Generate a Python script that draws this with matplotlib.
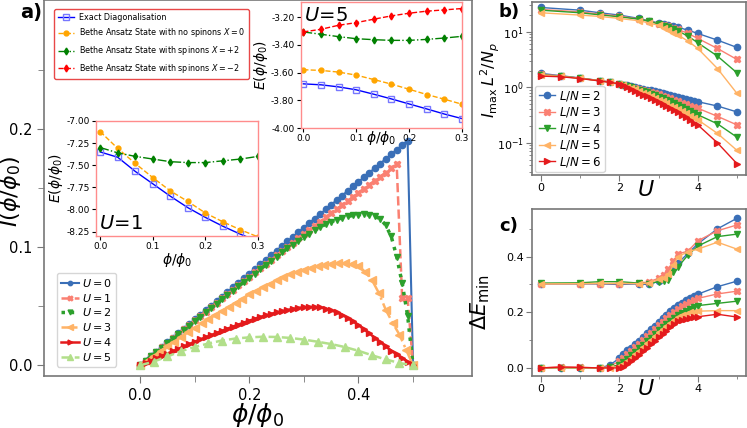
import numpy as np
import matplotlib
matplotlib.use("Agg")
import matplotlib.pyplot as plt
from matplotlib.ticker import MultipleLocator, FixedLocator, FormatStrFormatter

# ---------------- main panel: current vs flux ----------------
phi_01 = [k / 100 for k in range(51)]
phi_0125 = [k / 80 for k in range(41)]
phi_025 = [k / 40 for k in range(21)]

I_U0 = [0.0, 0.0039, 0.0078, 0.0116, 0.0155, 0.0194, 0.0233, 0.0272, 0.0310, 0.0349,
        0.0388, 0.0427, 0.0466, 0.0504, 0.0543, 0.0582, 0.0621, 0.0660, 0.0698, 0.0737,
        0.0776, 0.0815, 0.0854, 0.0892, 0.0931, 0.0970, 0.1009, 0.1048, 0.1086, 0.1125,
        0.1164, 0.1203, 0.1242, 0.1280, 0.1319, 0.1358, 0.1397, 0.1436, 0.1474, 0.1513,
        0.1552, 0.1591, 0.1630, 0.1668, 0.1707, 0.1746, 0.1785, 0.1824, 0.1862, 0.1901,
        0.0]
I_U1 = [0.0, 0.0038, 0.0077, 0.0115, 0.0153, 0.0191, 0.0229, 0.0267, 0.0305, 0.0342,
        0.0380, 0.0417, 0.0455, 0.0492, 0.0529, 0.0566, 0.0603, 0.0640, 0.0677, 0.0713,
        0.0750, 0.0786, 0.0823, 0.0859, 0.0895, 0.0931, 0.0967, 0.1003, 0.1039, 0.1074,
        0.1110, 0.1145, 0.1181, 0.1216, 0.1251, 0.1286, 0.1321, 0.1356, 0.1391, 0.1425,
        0.1460, 0.1494, 0.1529, 0.1563, 0.1597, 0.1631, 0.1665, 0.1699, 0.057, 0.057,
        0.0]
I_U2 = [0.0, 0.0038, 0.0076, 0.0113, 0.0151, 0.0188, 0.0225, 0.0263, 0.0300, 0.0337,
        0.0374, 0.0411, 0.0448, 0.0485, 0.0521, 0.0558, 0.0594, 0.0631, 0.0667, 0.0704,
        0.0740, 0.0776, 0.0812, 0.0848, 0.0884, 0.0920, 0.0955, 0.0989, 0.1022, 0.1054,
        0.1085, 0.1115, 0.1143, 0.1169, 0.1193, 0.1214, 0.1232, 0.1247, 0.1259, 0.1268,
        0.1274, 0.1277, 0.1272, 0.1262, 0.1238, 0.1185, 0.1090, 0.0920, 0.0695, 0.0420,
        0.0]
I_U3 = [0.0, 0.004, 0.008, 0.012, 0.016, 0.020, 0.024, 0.028, 0.032, 0.0355,
        0.039, 0.0425, 0.046, 0.0495, 0.053, 0.0565, 0.060, 0.063, 0.066, 0.069,
        0.072, 0.0745, 0.077, 0.079, 0.081, 0.0825, 0.084, 0.085, 0.086, 0.0865,
        0.0865, 0.086, 0.084, 0.079, 0.072, 0.061, 0.047, 0.036, 0.026, 0.013,
        0.0]
I_U4 = [0.0, 0.002, 0.004, 0.006, 0.008, 0.010, 0.012, 0.014, 0.016, 0.018,
        0.020, 0.0219, 0.0238, 0.0256, 0.0274, 0.0292, 0.0310, 0.0328, 0.0345, 0.0362,
        0.0378, 0.0394, 0.0409, 0.0423, 0.0436, 0.0448, 0.0459, 0.0469, 0.0478, 0.0486,
        0.0492, 0.0495, 0.0495, 0.0490, 0.0480, 0.0465, 0.0448, 0.0428, 0.0400, 0.0372,
        0.0340, 0.0305, 0.0270, 0.0233, 0.0196, 0.0160, 0.0125, 0.0092, 0.0062, 0.0030,
        0.0]
I_U5 = [0.0, 0.0032, 0.0075, 0.012, 0.0155, 0.0185, 0.021, 0.0227, 0.0237, 0.0242,
        0.0240, 0.0232, 0.0218, 0.0200, 0.0180, 0.0155, 0.0123, 0.0085, 0.0050, 0.0020,
        0.0]

# ---------------- insets: energy vs flux ----------------
phi_in = [0.0, 0.0333, 0.0667, 0.1, 0.1333, 0.1667, 0.2, 0.2333, 0.2667, 0.3]
E1_exact = [-7.35, -7.41, -7.57, -7.71, -7.85, -7.98, -8.09, -8.19, -8.28, -8.36]
E1_nospin = [-7.12, -7.31, -7.48, -7.64, -7.79, -7.91, -8.04, -8.14, -8.23, -8.31]
E1_plus2 = [-7.30, -7.36, -7.40, -7.43, -7.46, -7.47, -7.47, -7.45, -7.43, -7.40]
E5_exact = [-3.681, -3.688, -3.703, -3.724, -3.756, -3.790, -3.826, -3.862, -3.899, -3.932]
E5_nospin = [-3.579, -3.584, -3.596, -3.618, -3.650, -3.683, -3.720, -3.758, -3.792, -3.828]
E5_plus2 = [-3.306, -3.323, -3.340, -3.355, -3.362, -3.367, -3.367, -3.360, -3.350, -3.338]
E5_minus2 = [-3.306, -3.287, -3.258, -3.239, -3.214, -3.190, -3.171, -3.156, -3.147, -3.137]

# ---------------- panels b, c: vs U ----------------
U_up = [0, 1, 1.5, 2, 2.5, 2.75, 3, 3.125, 3.25, 3.375, 3.5, 3.75, 4, 4.5, 5]
U_lo = [0, 0.5, 1, 1.5, 1.75, 2.0, 2.1, 2.2, 2.3, 2.4, 2.5, 2.6, 2.7, 2.8, 2.9, 3.0,
        3.1, 3.2, 3.3, 3.4, 3.5, 3.6, 3.7, 3.8, 3.9, 4.0, 4.5, 5]
ratios = [2, 3, 4, 5, 6]

Imax_up = {
    2: [27.4, 24.5, 22.0, 20.0, 17.4, 15.8, 14.5, 13.8, 13.2, 12.6, 12.0, 10.7, 9.33, 7.08, 5.22],
    3: [25.2, 22.9, 20.8, 19.2, 16.9, 15.6, 14.1, 13.4, 12.7, 11.9, 11.0, 9.33, 7.59, 5.01, 3.17],
    4: [24.5, 22.0, 20.2, 18.6, 16.9, 15.6, 13.8, 12.9, 12.0, 11.2, 10.3, 8.35, 6.34, 3.65, 1.82],
    5: [22.0, 20.0, 18.9, 17.4, 15.8, 14.5, 13.0, 11.9, 10.7, 9.7, 8.71, 6.79, 5.01, 2.18, 0.774],
}
Imax_lo = {
    2: [1.78, 1.62, 1.47, 1.32, 1.25, 1.16, 1.12, 1.08, 1.05, 1.01, 0.98, 0.95, 0.91, 0.88,
        0.85, 0.82, 0.79, 0.76, 0.72, 0.69, 0.66, 0.64, 0.61, 0.59, 0.57, 0.55, 0.46, 0.36],
    3: [1.72, 1.60, 1.46, 1.32, 1.25, 1.16, 1.11, 1.07, 1.03, 0.99, 0.95, 0.91, 0.87, 0.83,
        0.79, 0.75, 0.71, 0.67, 0.63, 0.59, 0.56, 0.53, 0.50, 0.47, 0.44, 0.42, 0.30, 0.21],
    4: [1.68, 1.58, 1.46, 1.31, 1.24, 1.16, 1.10, 1.05, 1.00, 0.95, 0.90, 0.85, 0.81, 0.76,
        0.72, 0.68, 0.64, 0.60, 0.56, 0.52, 0.48, 0.45, 0.41, 0.38, 0.35, 0.32, 0.22, 0.126],
    5: [1.66, 1.57, 1.45, 1.31, 1.24, 1.16, 1.09, 1.03, 0.97, 0.92, 0.86, 0.80, 0.75, 0.70,
        0.65, 0.60, 0.56, 0.52, 0.47, 0.44, 0.40, 0.37, 0.34, 0.31, 0.28, 0.26, 0.148, 0.073],
    6: [1.59, 1.55, 1.44, 1.30, 1.23, 1.15, 1.08, 1.00, 0.93, 0.86, 0.80, 0.74, 0.69, 0.64,
        0.59, 0.55, 0.51, 0.47, 0.43, 0.39, 0.36, 0.32, 0.29, 0.26, 0.23, 0.21, 0.10, 0.042],
}
dE_up = {
    2: [0.302, 0.302, 0.302, 0.300, 0.302, 0.300, 0.312, 0.323, 0.340, 0.360, 0.378, 0.412, 0.446, 0.500, 0.538],
    3: [0.302, 0.303, 0.303, 0.303, 0.304, 0.310, 0.322, 0.335, 0.356, 0.385, 0.410, 0.420, 0.457, 0.493, 0.514],
    4: [0.305, 0.306, 0.310, 0.310, 0.305, 0.303, 0.310, 0.313, 0.316, 0.345, 0.364, 0.406, 0.438, 0.472, 0.481],
    5: [0.302, 0.303, 0.304, 0.304, 0.303, 0.305, 0.318, 0.325, 0.338, 0.370, 0.400, 0.418, 0.427, 0.452, 0.427],
}
dE_lo = {
    2: [0.0, 0.0, 0.0, 0.0, 0.010, 0.035, 0.049, 0.063, 0.072, 0.085, 0.097, 0.112, 0.125, 0.139,
        0.152, 0.166, 0.178, 0.190, 0.203, 0.215, 0.226, 0.235, 0.243, 0.251, 0.258, 0.265, 0.292, 0.312],
    3: [0.0, 0.004, 0.002, 0.0, 0.005, 0.025, 0.037, 0.050, 0.062, 0.075, 0.087, 0.100, 0.114, 0.127,
        0.141, 0.154, 0.166, 0.178, 0.190, 0.201, 0.212, 0.221, 0.230, 0.237, 0.244, 0.250, 0.266, 0.276],
    4: [0.0, 0.0, 0.0, 0.0, 0.002, 0.012, 0.022, 0.033, 0.045, 0.058, 0.070, 0.083, 0.096, 0.109,
        0.122, 0.136, 0.147, 0.158, 0.170, 0.180, 0.190, 0.198, 0.205, 0.212, 0.218, 0.224, 0.232, 0.240],
    5: [0.0, 0.0, 0.0, 0.0, 0.0, 0.006, 0.015, 0.025, 0.037, 0.050, 0.062, 0.075, 0.088, 0.101,
        0.115, 0.128, 0.139, 0.150, 0.162, 0.173, 0.183, 0.190, 0.195, 0.200, 0.202, 0.204, 0.206, 0.206],
    6: [0.0, 0.003, 0.002, 0.0, 0.0, 0.0, 0.005, 0.014, 0.025, 0.036, 0.047, 0.060, 0.072, 0.085,
        0.098, 0.111, 0.123, 0.134, 0.146, 0.157, 0.167, 0.172, 0.176, 0.180, 0.182, 0.184, 0.193, 0.183],
}

BLUE, SALMON, GREEN, ORANGE, RED, LGREEN = "#3a6fb7", "#fa8072", "#2ca02c", "#ffb366", "#e41a1c", "#b2df8a"
ratio_style = {2: (BLUE, "o"), 3: (SALMON, "X"), 4: (GREEN, "v"), 5: (ORANGE, "<"), 6: (RED, ">")}
SPINE = "#777777"
FRAME = "#ff8c8c"

fig = plt.figure(figsize=(7.47, 4.28), dpi=100)

# ---------- a) ----------
ax = fig.add_axes([0.0589, 0.1215, 0.573, 0.8785])
ax.plot(phi_01, I_U0, "-o", color=BLUE, ms=4.5, lw=1.5, label="$U=0$")
ax.plot(phi_01, I_U1, "--X", color=SALMON, ms=5, lw=1.8, label="$U=1$")
ax.plot(phi_01, I_U2, ":v", color=GREEN, ms=5, lw=2.5, label="$U=2$")
ax.plot(phi_0125, I_U3, "-.<", color=ORANGE, ms=5.5, lw=1.8, label="$U=3$")
ax.plot(phi_01, I_U4, "->", color=RED, ms=5, lw=1.8, label="$U=4$")
ax.plot(phi_025, I_U5, "--^", color=LGREEN, ms=5.5, lw=1.8, label="$U=5$")
ax.set_xlim(-0.176, 0.608)
ax.set_ylim(-0.009, 0.309)
ax.xaxis.set_major_locator(FixedLocator([0.0, 0.2, 0.4]))
ax.xaxis.set_minor_locator(FixedLocator([0.1, 0.3, 0.5]))
ax.yaxis.set_major_locator(FixedLocator([0.0, 0.1, 0.2]))
ax.yaxis.set_minor_locator(FixedLocator([0.05, 0.15, 0.25]))
ax.xaxis.set_major_formatter(FormatStrFormatter("%.1f"))
ax.yaxis.set_major_formatter(FormatStrFormatter("%.1f"))
ax.tick_params(which="major", length=5, labelsize=10.5, color=SPINE)
ax.tick_params(which="minor", length=4, color=SPINE)
for s in ax.spines.values():
    s.set_color(SPINE)
    s.set_linewidth(1.2)
ax.set_xlabel(r"$\phi/\phi_0$", fontsize=18, labelpad=-1)
ax.set_ylabel(r"$I(\phi/\phi_0)$", fontsize=16)
ax.yaxis.set_label_coords(-0.048, 0.49)
ax.legend(loc="lower left", bbox_to_anchor=(0.03, 0.025), borderaxespad=0, fontsize=8,
          handlelength=1.6, handletextpad=0.3, labelspacing=0.25, borderpad=0.35,
          markerscale=0.7)

def inset_style(a):
    for s in a.spines.values():
        s.set_color(FRAME)
        s.set_linewidth(1.0)
    a.tick_params(labelsize=6.5, length=3, pad=1.5)

# inset U = 1
a1 = fig.add_axes([0.1285, 0.4486, 0.2169, 0.2687])
a1.plot(phi_in, E1_exact, "-s", color="blue", mfc="none", mec="#7777ff", ms=5, lw=1)
a1.plot(phi_in, E1_nospin, "--o", color="orange", ms=3.5, lw=1)
a1.plot(phi_in, E1_plus2, "-.d", color="green", ms=3.5, lw=1)
a1.set_xlim(-0.008, 0.3)
a1.set_ylim(-8.30, -7.0)
a1.set_xticks([0.0, 0.1, 0.2, 0.3])
a1.set_yticks([-7.0, -7.25, -7.5, -7.75, -8.0, -8.25])
a1.yaxis.set_major_formatter(FormatStrFormatter("%.2f"))
a1.xaxis.set_major_formatter(FormatStrFormatter("%.1f"))
inset_style(a1)
a1.set_xlabel(r"$\phi/\phi_0$", fontsize=10, labelpad=0)
a1.set_ylabel(r"$E(\phi/\phi_0)$", fontsize=10, labelpad=1)
a1.text(0.02, 0.03, r"$U\!=\!1$", transform=a1.transAxes, fontsize=14, va="bottom", ha="left")

# inset U = 5
a5 = fig.add_axes([0.4025, 0.7009, 0.2159, 0.2944])
h_ex, = a5.plot(phi_in, E5_exact, "-s", color="blue", mfc="none", mec="#7777ff", ms=5, lw=1,
                label="Exact Diagonalisation")
h_ns, = a5.plot(phi_in, E5_nospin, "--o", color="orange", ms=3.5, lw=1,
                label="Bethe Ansatz State with no spinons $X=0$")
h_p2, = a5.plot(phi_in, E5_plus2, "-.d", color="green", ms=3.5, lw=1,
                label="Bethe Ansatz State with spinons $X=+2$")
h_m2, = a5.plot(phi_in, E5_minus2, "--d", color="red", ms=3.5, lw=1,
                label="Bethe Ansatz State with spinons $X=-2$")
a5.set_xlim(-0.005, 0.3)
a5.set_ylim(-4.0, -3.09)
a5.set_xticks([0.0, 0.1, 0.2, 0.3])
a5.set_yticks([-3.2, -3.4, -3.6, -3.8, -4.0])
a5.yaxis.set_major_formatter(FormatStrFormatter("%.2f"))
a5.xaxis.set_major_formatter(FormatStrFormatter("%.1f"))
inset_style(a5)
a5.set_xlabel(r"$\phi/\phi_0$", fontsize=10)
a5.xaxis.set_label_coords(0.5, -0.01)
a5.set_ylabel(r"$E(\phi/\phi_0)$", fontsize=10, labelpad=1)
a5.text(0.02, 0.97, r"$U\!=\!5$", transform=a5.transAxes, fontsize=14, va="top", ha="left")

fig.legend(handles=[h_ex, h_ns, h_p2, h_m2], loc="upper left",
           bbox_to_anchor=(50 / 747, 1 - 5 / 428), fontsize=5.8, edgecolor="#e84848",
           fancybox=True, framealpha=1, handlelength=2.0, handletextpad=0.6,
           labelspacing=0.6, borderpad=0.45)

# ---------- b) ----------
axb = fig.add_axes([0.7122, 0.5911, 0.2865, 0.4042])
for r in [2, 3, 4, 5]:
    c, m = ratio_style[r]
    axb.plot(U_up, Imax_up[r], "-" + m, color=c, ms=4.5, lw=1)
for r in ratios:
    c, m = ratio_style[r]
    axb.plot(U_lo, Imax_lo[r], "-" + m, color=c, ms=4.5, lw=1, label=f"$L/N={r}$")
axb.set_yscale("log")
axb.set_ylim(0.0263, 34.4)
axb.set_xlim(-0.23, 5.23)
axb.set_ylabel(r"$I_{\max}\,L^2/N_p$", fontsize=11.5, labelpad=0)
axb.yaxis.set_label_coords(-0.14, 0.55)
axb.set_xlabel("$U$", fontsize=16)
axb.xaxis.set_label_coords(0.53, -0.03)
axb.legend(loc="lower left", bbox_to_anchor=(0.0, 0.0), borderaxespad=0.25, fontsize=8.5,
           handlelength=1.4, handletextpad=0.3, labelspacing=0.2, borderpad=0.3)

# ---------- c) ----------
axc = fig.add_axes([0.7122, 0.1215, 0.2865, 0.390])
for r in [2, 3, 4, 5]:
    c, m = ratio_style[r]
    axc.plot(U_up, dE_up[r], "-" + m, color=c, ms=4.5, lw=1)
for r in ratios:
    c, m = ratio_style[r]
    axc.plot(U_lo, dE_lo[r], "-" + m, color=c, ms=4.5, lw=1)
axc.set_ylim(-0.029, 0.571)
axc.set_xlim(-0.23, 5.23)
axc.yaxis.set_major_locator(MultipleLocator(0.2))
axc.yaxis.set_minor_locator(MultipleLocator(0.1))
axc.yaxis.set_major_formatter(FormatStrFormatter("%.1f"))
axc.set_ylabel(r"$\Delta E_{\min}$", fontsize=15)
axc.yaxis.set_label_coords(-0.187, 0.443)
axc.set_xlabel("$U$", fontsize=16)
axc.xaxis.set_label_coords(0.53, -0.02)

for a in (axb, axc):
    a.xaxis.set_major_locator(MultipleLocator(2))
    a.xaxis.set_minor_locator(MultipleLocator(1))
    a.tick_params(which="both", labelsize=8, color=SPINE, pad=2)
    a.tick_params(which="major", length=4)
    a.tick_params(which="minor", length=2.5)
    for s in a.spines.values():
        s.set_color(SPINE)
        s.set_linewidth(1.2)

fig.text(20 / 747, 1 - 3 / 428, "a)", fontsize=14, fontweight="bold", va="top")
fig.text(499 / 747, 1 - 3 / 428, "b)", fontsize=13, fontweight="bold", va="top")
fig.text(499 / 747, 1 - 217 / 428, "c)", fontsize=13, fontweight="bold", va="top")

fig.savefig("out.png", dpi=100)
